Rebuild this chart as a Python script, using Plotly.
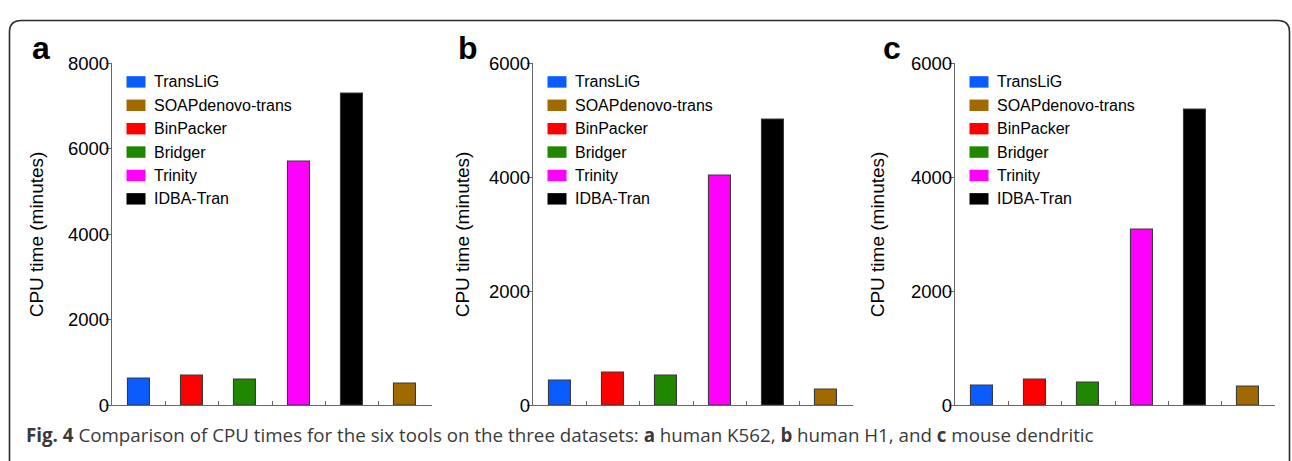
import plotly.graph_objects as go

W, H = 1292, 461

# ---------------- data ----------------
bar_tools = ["TransLiG", "BinPacker", "Bridger", "Trinity", "IDBA-Tran", "SOAPdenovo-trans"]
legend_tools = ["TransLiG", "SOAPdenovo-trans", "BinPacker", "Bridger", "Trinity", "IDBA-Tran"]
tool_colors = {
    "TransLiG": "#0A5CFF",
    "SOAPdenovo-trans": "#A06A00",
    "BinPacker": "#FF0000",
    "Bridger": "#1F8700",
    "Trinity": "#FF00FF",
    "IDBA-Tran": "#000000",
}
cpu_k562 = [620, 700, 610, 5700, 7300, 510]
cpu_h1 = [440, 570, 530, 4040, 5020, 270]
cpu_mouse = [350, 460, 400, 3080, 5200, 320]
panel_letters = ["a", "b", "c"]
y_max = [8000, 6000, 6000]
y_title = "CPU time (minutes)"
caption = ("<b>Fig. 4</b> Comparison of CPU times for the six tools on the three datasets: "
           "<b>a</b> human K562, <b>b</b> human H1, and <b>c</b> mouse dendritic")

# ---------------- layout geometry (pixels) ----------------
panel_left = [112, 533, 955]
panel_width = 320
plot_top, plot_bottom = 55, 413
title_x = [36, 462, 877]
letter_x = [30, 456, 881]


def px(x):
    return x / W


def py(y):
    return 1 - y / H


fig = go.Figure()
layout = {}
shapes = []
annotations = []
axis_color = "#666666"
font_family = "Liberation Sans, Arial, sans-serif"

datasets = [cpu_k562, cpu_h1, cpu_mouse]
for p, vals in enumerate(datasets):
    xb = 2 * p + 1
    xt = 2 * p + 2
    xname_b = "x" if xb == 1 else f"x{xb}"
    yname_l = "y" if xb == 1 else f"y{xb}"
    fig.add_trace(go.Bar(
        x=list(range(len(bar_tools))),
        y=vals,
        width=0.41,
        marker=dict(color=[tool_colors[t] for t in bar_tools],
                    line=dict(color="#3a3a3a", width=1.1)),
        xaxis=xname_b, yaxis=yname_l,
        showlegend=False,
        hovertext=bar_tools,
    ))
    dom_x = [px(panel_left[p]), px(panel_left[p] + panel_width)]
    dom_y = [py(plot_bottom), py(plot_top)]
    n = len(bar_tools)
    common_x = dict(range=[-0.5, n - 0.5], showgrid=False, zeroline=False,
                    showline=True, linecolor=axis_color, linewidth=1.3,
                    ticks="inside", ticklen=4, tickcolor=axis_color, tickwidth=1,
                    showticklabels=False)
    layout[f"xaxis{xb}" if xb > 1 else "xaxis"] = dict(
        domain=dom_x, anchor=yname_l, tickvals=[i + 0.5 for i in range(n - 1)], **common_x)
    layout[f"xaxis{xt}"] = dict(
        overlaying=xname_b, side="top", anchor=yname_l,
        tickvals=[i * 0.5 for i in range(2 * n - 1)], **common_x)
    common_y = dict(range=[0, y_max[p]], showgrid=False, zeroline=False,
                    showline=True, linecolor=axis_color, linewidth=1.3,
                    tickcolor=axis_color, tickwidth=1)
    layout[f"yaxis{xb}" if xb > 1 else "yaxis"] = dict(
        domain=dom_y, anchor=xname_b, ticks="outside", ticklen=5, dtick=2000,
        ticklabelstandoff=-7,
        tickfont=dict(family=font_family, size=18.5, color="#000000"),
        **common_y)
    layout[f"yaxis{xt}"] = dict(
        overlaying=yname_l, side="right", anchor=xname_b, ticks="inside", ticklen=4,
        dtick=1000, showticklabels=False, **common_y)

    # legend (drawn in panel)
    for j, t in enumerate(legend_tools):
        yc = 74.3 + 24.5 * j
        shapes.append(dict(type="rect", xref="paper", yref="paper",
                           x0=px(panel_left[p] + 14.5), x1=px(panel_left[p] + 33.5),
                           y0=py(yc + 6), y1=py(yc - 6),
                           fillcolor=tool_colors[t], line=dict(width=0)))
        annotations.append(dict(text=t, xref="paper", yref="paper",
                                x=px(panel_left[p] + 40), y=py(yc),
                                xanchor="left", yanchor="middle", showarrow=False,
                                font=dict(family=font_family, size=16, color="#000000")))
    # y title
    annotations.append(dict(text=y_title, xref="paper", yref="paper",
                            x=px(title_x[p]), y=py((plot_top + plot_bottom) / 2),
                            xanchor="center", yanchor="middle", textangle=-90,
                            showarrow=False,
                            font=dict(family=font_family, size=19, color="#000000")))
    # panel letter
    annotations.append(dict(text=f"<b>{panel_letters[p]}</b>", xref="paper", yref="paper",
                            x=px(letter_x[p]), y=py(39), xanchor="left", yanchor="middle",
                            showarrow=False,
                            font=dict(family=font_family, size=32, color="#000000")))

# caption
annotations.append(dict(text=caption, xref="paper", yref="paper",
                        x=px(24), y=py(444), xanchor="left", yanchor="middle",
                        showarrow=False,
                        font=dict(family="Open Sans, sans-serif", size=18.75, color="#3a3a3a")))

# rounded frame
x0, y0, x1, y1, r = 9.5, 10, 1289.5, 475, 12
path = (f"M {px(x0)},{py(y1)} L {px(x0)},{py(y0 + r)} "
        f"Q {px(x0)},{py(y0)} {px(x0 + r)},{py(y0)} "
        f"L {px(x1 - r)},{py(y0)} Q {px(x1)},{py(y0)} {px(x1)},{py(y0 + r)} "
        f"L {px(x1)},{py(y1)}")
shapes.append(dict(type="path", xref="paper", yref="paper", path=path,
                   line=dict(color="#2a2a2a", width=1.6)))

fig.update_layout(
    width=W, height=H, autosize=False,
    margin=dict(l=0, r=0, t=0, b=0),
    paper_bgcolor="white", plot_bgcolor="white",
    shapes=shapes, annotations=annotations,
    bargap=0,
    **layout,
)
fig.write_html("out.html")
